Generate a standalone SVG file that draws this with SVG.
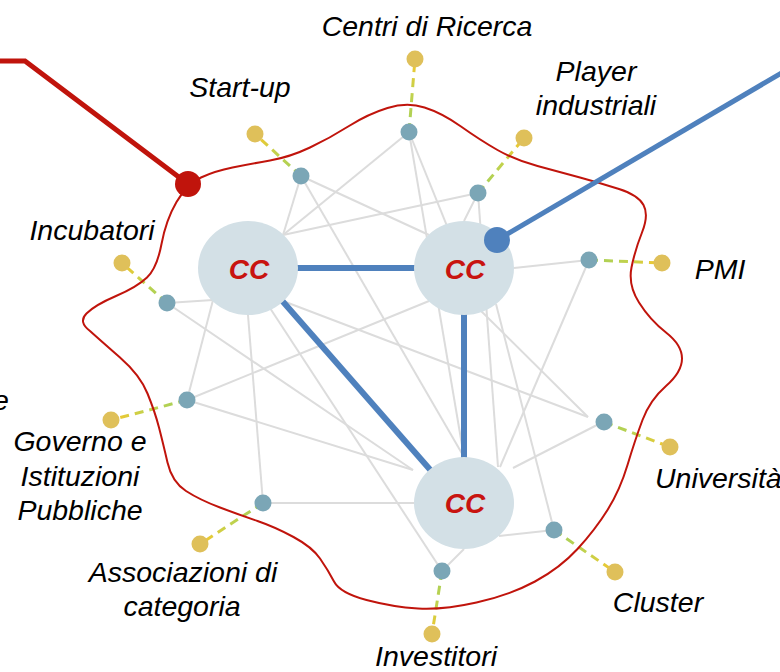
<svg xmlns="http://www.w3.org/2000/svg" width="780" height="672" viewBox="0 0 780 672">
<style>
.lbl{font-family:"Liberation Sans",Arial,sans-serif;font-style:italic;font-size:28.5px;fill:#000;text-anchor:middle}
.cc{font-family:"Liberation Sans",Arial,sans-serif;font-style:italic;font-weight:bold;font-size:28px;fill:#c81410;text-anchor:middle}
.edge{stroke:#dcdcdc;stroke-width:2;fill:none}
.strong{stroke:#4f81bd;stroke-width:6;fill:none}
.dash{stroke-width:3;stroke-dasharray:9 6;fill:none}
.sat{fill:#7ba6b6}
.ext{fill:#dfc05a}
.hub{fill:#d3e0e6}
</style>
<defs>
<linearGradient id="gStart" gradientUnits="userSpaceOnUse" x1="301" y1="176" x2="255" y2="134"><stop offset="0" stop-color="#a3d05a"/><stop offset="0.55" stop-color="#c3d24c"/><stop offset="1" stop-color="#f7c52c"/></linearGradient>
<linearGradient id="gCentri" gradientUnits="userSpaceOnUse" x1="409" y1="132" x2="415" y2="59"><stop offset="0" stop-color="#a3d05a"/><stop offset="0.55" stop-color="#c3d24c"/><stop offset="1" stop-color="#f7c52c"/></linearGradient>
<linearGradient id="gPlayer" gradientUnits="userSpaceOnUse" x1="478" y1="193" x2="524" y2="138"><stop offset="0" stop-color="#a3d05a"/><stop offset="0.55" stop-color="#c3d24c"/><stop offset="1" stop-color="#f7c52c"/></linearGradient>
<linearGradient id="gPMI" gradientUnits="userSpaceOnUse" x1="589" y1="260" x2="662" y2="263"><stop offset="0" stop-color="#a3d05a"/><stop offset="0.55" stop-color="#c3d24c"/><stop offset="1" stop-color="#f7c52c"/></linearGradient>
<linearGradient id="gInc" gradientUnits="userSpaceOnUse" x1="167" y1="303" x2="122" y2="263"><stop offset="0" stop-color="#a3d05a"/><stop offset="0.55" stop-color="#c3d24c"/><stop offset="1" stop-color="#f7c52c"/></linearGradient>
<linearGradient id="gGov" gradientUnits="userSpaceOnUse" x1="187" y1="400" x2="111" y2="420"><stop offset="0" stop-color="#a3d05a"/><stop offset="0.55" stop-color="#c3d24c"/><stop offset="1" stop-color="#f7c52c"/></linearGradient>
<linearGradient id="gAss" gradientUnits="userSpaceOnUse" x1="263" y1="503" x2="200" y2="544"><stop offset="0" stop-color="#a3d05a"/><stop offset="0.55" stop-color="#c3d24c"/><stop offset="1" stop-color="#f7c52c"/></linearGradient>
<linearGradient id="gInv" gradientUnits="userSpaceOnUse" x1="442" y1="571" x2="432" y2="634"><stop offset="0" stop-color="#a3d05a"/><stop offset="0.55" stop-color="#c3d24c"/><stop offset="1" stop-color="#f7c52c"/></linearGradient>
<linearGradient id="gClu" gradientUnits="userSpaceOnUse" x1="554" y1="530" x2="615" y2="572"><stop offset="0" stop-color="#a3d05a"/><stop offset="0.55" stop-color="#c3d24c"/><stop offset="1" stop-color="#f7c52c"/></linearGradient>
<linearGradient id="gUni" gradientUnits="userSpaceOnUse" x1="604" y1="422" x2="670" y2="447"><stop offset="0" stop-color="#a3d05a"/><stop offset="0.55" stop-color="#c3d24c"/><stop offset="1" stop-color="#f7c52c"/></linearGradient>
</defs>
<rect width="780" height="672" fill="#fff"/>
<g id="connectors">
<g id="weak-links">
<line class="edge" x1="301" y1="176" x2="283" y2="235"/>
<line class="edge" x1="409" y1="132" x2="283" y2="235"/>
<line class="edge" x1="478" y1="193" x2="283" y2="235"/>
<line class="edge" x1="301" y1="176" x2="429" y2="235"/>
<line class="edge" x1="301" y1="176" x2="464" y2="457"/>
<line class="edge" x1="409" y1="132" x2="464" y2="268"/>
<line class="edge" x1="409" y1="132" x2="464" y2="457"/>
<line class="edge" x1="478" y1="193" x2="464" y2="221"/>
<line class="edge" x1="478" y1="193" x2="498" y2="467"/>
<line class="edge" x1="589" y1="260" x2="514" y2="268"/>
<line class="edge" x1="589" y1="260" x2="500" y2="467"/>
<line class="edge" x1="167" y1="303" x2="213" y2="300"/>
<line class="edge" x1="167" y1="303" x2="413" y2="470"/>
<line class="edge" x1="187" y1="400" x2="213" y2="300"/>
<line class="edge" x1="187" y1="400" x2="429" y2="301"/>
<line class="edge" x1="187" y1="400" x2="413" y2="470"/>
<line class="edge" x1="248" y1="315" x2="263" y2="503"/>
<line class="edge" x1="268" y1="305" x2="442" y2="571"/>
<line class="edge" x1="283" y1="301" x2="588" y2="417"/>
<line class="edge" x1="474" y1="304" x2="588" y2="417"/>
<line class="edge" x1="513" y1="468" x2="597" y2="425"/>
<line class="edge" x1="496" y1="304" x2="554" y2="530"/>
<line class="edge" x1="499" y1="536" x2="554" y2="530"/>
<line class="edge" x1="263" y1="503" x2="414" y2="503"/>
<line class="edge" x1="464" y1="549" x2="442" y2="571"/>
</g>
<g id="external-links">
<line class="dash" stroke="url(#gStart)" x1="301" y1="176" x2="255" y2="134"/>
<line class="dash" stroke="url(#gCentri)" x1="409" y1="132" x2="415" y2="59"/>
<line class="dash" stroke="url(#gPlayer)" x1="478" y1="193" x2="524" y2="138"/>
<line class="dash" stroke="url(#gPMI)" x1="589" y1="260" x2="662" y2="263"/>
<line class="dash" stroke="url(#gInc)" x1="167" y1="303" x2="122" y2="263"/>
<line class="dash" stroke="url(#gGov)" x1="187" y1="400" x2="111" y2="420"/>
<line class="dash" stroke="url(#gAss)" x1="263" y1="503" x2="200" y2="544"/>
<line class="dash" stroke="url(#gInv)" x1="442" y1="571" x2="432" y2="634"/>
<line class="dash" stroke="url(#gClu)" x1="554" y1="530" x2="615" y2="572"/>
<line class="dash" stroke="url(#gUni)" x1="604" y1="422" x2="670" y2="447"/>
</g>
<g id="strong-links">
<line class="strong" x1="290" y1="268" x2="420" y2="268"/>
<line class="strong" x1="464" y1="308" x2="464" y2="462"/>
<line class="strong" x1="278" y1="296" x2="433" y2="473"/>
</g>
</g>
<g id="boundary">
<path d="M 176.5 202 Q 187 184 201 177.5 Q 215 171 232.5 167.5 Q 250 164 270 160.5 Q 290 157 310 147.5 Q 330 138 349 126 Q 368 114 387.5 108 Q 407 102 424.5 107.5 Q 442 113 461 126.5 Q 480 140 497.5 150 Q 515 160 537.5 166 Q 560 172 580 177.5 Q 600 183 619 189 Q 638 195 643.5 205 Q 649 215 642 232.5 Q 635 250 631.5 267.5 Q 628 285 639 302.5 Q 650 320 666 332.5 Q 682 345 682 358.5 Q 682 372 666 386 Q 650 400 642.5 420 Q 635 440 627.5 465 Q 620 490 607.5 510 Q 595 530 577.5 549 Q 560 568 535 581.5 Q 510 595 476.5 602.5 Q 443 610 418 608.5 Q 393 607 366.5 600 Q 340 593 334 581.5 Q 328 570 320 558.5 Q 312 547 293.5 537 Q 275 527 257.5 521 Q 240 515 220 507.5 Q 200 500 186 491 Q 172 482 167.5 462.5 Q 163 443 159 427.5 Q 155 412 147.5 393.5 Q 140 375 120 357.5 Q 100 340 90 331 Q 78 322 86.5 313.5 Q 95 305 116 296 Q 137 287 147 277.5 Q 157 268 161.5 244 Q 166 220 176.5 202 Z" fill="none" stroke="#c0140c" stroke-width="2"/>
</g>
<g id="startup"><circle class="sat" cx="301" cy="176" r="8.5"/><circle class="ext" cx="255" cy="134" r="8.5"/><text class="lbl" x="240" y="97">Start-up</text></g>
<g id="centri"><circle class="sat" cx="409" cy="132" r="8.5"/><circle class="ext" cx="415" cy="59" r="8.5"/><text class="lbl" x="427" y="36">Centri di Ricerca</text></g>
<g id="player"><circle class="sat" cx="478" cy="193" r="8.5"/><circle class="ext" cx="524" cy="138" r="8.5"/><text class="lbl" x="596" y="81">Player</text><text class="lbl" x="596" y="115">industriali</text></g>
<g id="pmi"><circle class="sat" cx="589" cy="260" r="8.5"/><circle class="ext" cx="662" cy="263" r="8.5"/><text class="lbl" x="720" y="279">PMI</text></g>
<g id="incubatori"><circle class="sat" cx="167" cy="303" r="8.5"/><circle class="ext" cx="122" cy="263" r="8.5"/><text class="lbl" x="92" y="240">Incubatori</text></g>
<g id="governo"><circle class="sat" cx="187" cy="400" r="8.5"/><circle class="ext" cx="111" cy="420" r="8.5"/><text class="lbl" x="80" y="451">Governo e</text><text class="lbl" x="80" y="486">Istituzioni</text><text class="lbl" x="80" y="520">Pubbliche</text></g>
<g id="associazioni"><circle class="sat" cx="263" cy="503" r="8.5"/><circle class="ext" cx="200" cy="544" r="8.5"/><text class="lbl" x="183" y="582">Associazioni di</text><text class="lbl" x="182" y="616">categoria</text></g>
<g id="investitori"><circle class="sat" cx="442" cy="571" r="8.5"/><circle class="ext" cx="432" cy="634" r="8.5"/><text class="lbl" x="436" y="666">Investitori</text></g>
<g id="cluster"><circle class="sat" cx="554" cy="530" r="8.5"/><circle class="ext" cx="615" cy="572" r="8.5"/><text class="lbl" x="658" y="612">Cluster</text></g>
<g id="universita"><circle class="sat" cx="604" cy="422" r="8.5"/><circle class="ext" cx="670" cy="447" r="8.5"/><text class="lbl" x="655" y="488" style="text-anchor:start">Università</text></g>
<g id="offscreen-label"><text class="lbl" x="-7" y="410" style="text-anchor:start">e</text></g>
<g id="cc1"><ellipse class="hub" cx="248" cy="268" rx="50" ry="47"/><text class="cc" x="249" y="279">CC</text></g>
<g id="cc2"><ellipse class="hub" cx="464" cy="268" rx="50" ry="47"/><text class="cc" x="465" y="279">CC</text></g>
<g id="cc3"><ellipse class="hub" cx="464" cy="503" rx="50" ry="46"/><text class="cc" x="465" y="513">CC</text></g>
<g id="red-pointer"><polyline points="-5,61 25,61 188,184" fill="none" stroke="#c0140c" stroke-width="5"/><circle cx="188" cy="184" r="13" fill="#c0140c"/></g>
<g id="blue-pointer"><line x1="497" y1="240" x2="790" y2="68" stroke="#4f81bd" stroke-width="5"/><circle cx="497" cy="240" r="13" fill="#4f81bd"/></g>
</svg>
